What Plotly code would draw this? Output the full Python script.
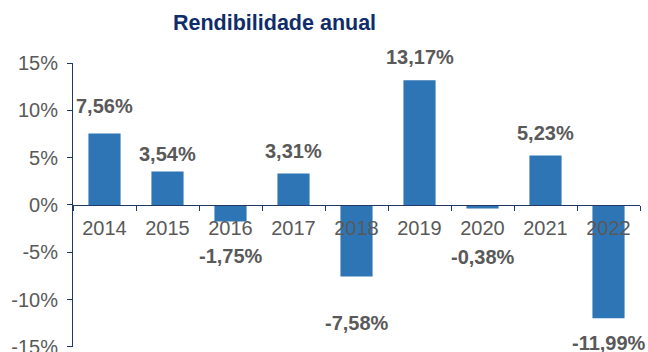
import plotly.graph_objects as go

# Annual returns (%)
years = ["2014", "2015", "2016", "2017", "2018", "2019", "2020", "2021", "2022"]
returns = [7.56, 3.54, -1.75, 3.31, -7.58, 13.17, -0.38, 5.23, -11.99]
value_labels = ["7,56%", "3,54%", "-1,75%", "3,31%", "-7,58%", "13,17%", "-0,38%", "5,23%", "-11,99%"]
# distance (px) from the bar end to the centre of its value label
label_offset_px = [27, 17, 35, 23, 46, 23, 48, 22, 25]

y_ticks = [-15, -10, -5, 0, 5, 10, 15]
y_tick_text = ["-15%", "-10%", "-5%", "0%", "5%", "10%", "15%"]

BAR = "#2E75B6"
NAVY = "#1F3864"
TITLE = "#0F2D69"
GREY = "#595959"
FONT = "Liberation Sans, Arial, sans-serif"

W, H = 648, 352
ML, MR, MT, MB = 72.5, 8, 63, 5

fig = go.Figure(
    go.Bar(x=years, y=returns, marker=dict(color=BAR, line=dict(width=0)),
           hoverinfo="skip")
)

# value labels, placed by category index so they sit over each bar
for i, (v, txt, off) in enumerate(zip(returns, value_labels, label_offset_px)):
    fig.add_annotation(
        x=i, y=v, text=f"<b>{txt}</b>", showarrow=False,
        yshift=off if v >= 0 else -off, xanchor="center", yanchor="middle",
        font=dict(family=FONT, size=20, color=GREY),
    )

# chart title
pw = W - ML - MR
ph = H - MT - MB
fig.add_annotation(
    x=(274 - ML) / pw, y=(H - 23 - MB) / ph, xref="paper", yref="paper",
    text="<b>Rendibilidade anual</b>", showarrow=False,
    xanchor="center", yanchor="middle",
    font=dict(family=FONT, size=21.5, color=TITLE),
)

fig.update_layout(
    width=W, height=H,
    margin=dict(l=ML, r=MR, t=MT, b=MB, autoexpand=False),
    paper_bgcolor="white", plot_bgcolor="white",
    bargap=0.49, showlegend=False,
    font=dict(family=FONT, size=20, color=GREY),
    xaxis=dict(
        type="category", range=[-0.5, len(years) - 0.5],
        anchor="free", position=0.5, automargin=False,
        showline=True, linecolor=NAVY, linewidth=1,
        ticks="outside", tickson="boundaries", ticklen=5, tickcolor=NAVY,
        showgrid=False, zeroline=False, tickangle=0,
        tickfont=dict(family=FONT, size=20, color=GREY),
        ticklabelstandoff=5,
    ),
    yaxis=dict(
        range=[-15.02, 15], tickvals=y_ticks, ticktext=y_tick_text,
        automargin=False,
        showline=True, linecolor=NAVY, linewidth=1,
        ticks="outside", ticklen=5, tickcolor=NAVY,
        showgrid=False, zeroline=False,
        tickfont=dict(family=FONT, size=20, color=GREY),
        ticklabelstandoff=5, ticklabeloverflow="allow",
    ),
)

fig.write_html("out.html")
